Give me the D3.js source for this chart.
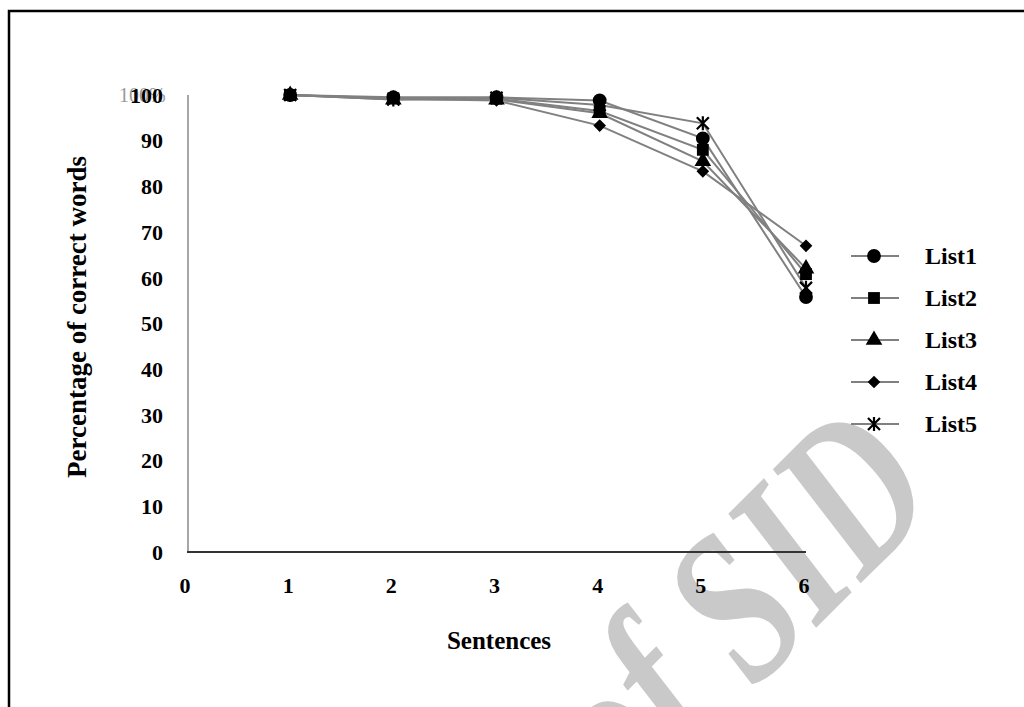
<!DOCTYPE html>
<html><head><meta charset="utf-8">
<script src="https://cdn.jsdelivr.net/npm/d3@7"></script>
<style>body{margin:0;background:#fff;}svg{display:block;}</style>
</head><body>
<svg id="c" width="1024" height="707"></svg>
<script>
const sentences = [1, 2, 3, 4, 5, 6];
const xTicks = [0, 1, 2, 3, 4, 5, 6];
const yTicks = [0, 10, 20, 30, 40, 50, 60, 70, 80, 90, 100];
const seriesNames = ["List1", "List2", "List3", "List4", "List5"];
const list1 = [100, 99.5, 99.5, 98.8, 90.5, 55.8];
const list2 = [100, 99.3, 99.2, 96.5, 88.0, 60.8];
const list3 = [100, 99.0, 99.0, 96.0, 85.5, 62.0];
const list4 = [100, 99.2, 98.8, 93.3, 83.3, 67.0];
const list5 = [100, 99.0, 99.4, 97.8, 93.8, 57.8];
const seriesValues = [list1, list2, list3, list4, list5];

const svg = d3.select("#c");
const font = "'Liberation Serif','Times New Roman',serif";

// watermark
svg.append("text")
  .attr("transform", "translate(944,500) rotate(-45) scale(0.74,1)")
  .attr("text-anchor", "end")
  .attr("font-family", font).attr("font-style", "italic").attr("font-weight", "bold")
  .attr("font-size", 218).attr("fill", "#c9c9c9")
  .text("Archive of SID");

// frame (top and left)
svg.append("path").attr("d", "M9,707 V11 H1024").attr("fill", "none")
  .attr("stroke", "#000").attr("stroke-width", 2.5);

const x = d3.scaleLinear().domain([0, 6]).range([187, 806]);
const y = d3.scaleLinear().domain([0, 100]).range([552, 95]);

// markers
const markers = [
  g => g.append("path").attr("d", d3.symbol().type(d3.symbolCircle).size(150)),
  g => g.append("path").attr("d", d3.symbol().type(d3.symbolSquare).size(140)),
  g => g.append("path").attr("d", d3.symbol().type(d3.symbolTriangle).size(120)),
  g => g.append("path").attr("d", d3.symbol().type(d3.symbolSquare).size(80)).attr("transform", "rotate(45)"),
  g => g.append("path").attr("d", "M-6,-6L6,6M-6,6L6,-6M0,-7L0,7").attr("stroke", "#000").attr("stroke-width", 2.2).attr("fill", "none")
];

// y axis line
svg.append("line").attr("x1", x(0)+1).attr("x2", x(0)+1).attr("y1", y(100)).attr("y2", y(0))
  .attr("stroke", "#888").attr("stroke-width", 1.5);
// x axis line
svg.append("line").attr("x1", x(0)).attr("x2", x(6)).attr("y1", y(0)).attr("y2", y(0))
  .attr("stroke", "#333").attr("stroke-width", 2);

// ghost label
svg.append("text").attr("x", 119).attr("y", y(100)+7).attr("font-family", font)
  .attr("font-size", 20).attr("fill", "#999").text("100%");

// y tick labels
svg.append("g").selectAll("text").data(yTicks).join("text")
  .attr("x", 163).attr("y", d => y(d)).attr("dy", "0.35em")
  .attr("text-anchor", "end").attr("font-family", font).attr("font-weight", "bold")
  .attr("font-size", 22).attr("fill", "#000").text(d => d);

// x tick labels
svg.append("g").selectAll("text").data(xTicks).join("text")
  .attr("x", d => x(d) - 2).attr("y", 593)
  .attr("text-anchor", "middle").attr("font-family", font).attr("font-weight", "bold")
  .attr("font-size", 22).attr("fill", "#000").text(d => d);

// axis titles
svg.append("text").attr("transform", "translate(86,317) rotate(-90)")
  .attr("text-anchor", "middle").attr("font-family", font).attr("font-weight", "bold")
  .attr("font-size", 27).text("Percentage of correct words");
svg.append("text").attr("x", 499).attr("y", 649)
  .attr("text-anchor", "middle").attr("font-family", font).attr("font-weight", "bold")
  .attr("font-size", 25).text("Sentences");

const line = d3.line().x((d, i) => x(sentences[i])).y(d => y(d));
seriesValues.forEach((vals) => {
  svg.append("path").attr("d", line(vals)).attr("fill", "none")
    .attr("stroke", "#808080").attr("stroke-width", 2);
});
seriesValues.forEach((vals, k) => {
  vals.forEach((v, i) => {
    const g = svg.append("g").attr("transform", `translate(${x(sentences[i])},${y(v)})`).attr("fill", "#000");
    markers[k](g);
  });
});

// legend
const lg = svg.append("g");
seriesNames.forEach((name, k) => {
  const ly = 256 + k * 42;
  lg.append("line").attr("x1", 851).attr("x2", 899).attr("y1", ly).attr("y2", ly)
    .attr("stroke", "#808080").attr("stroke-width", 2);
  const g = lg.append("g").attr("transform", `translate(874,${ly})`).attr("fill", "#000");
  markers[k](g);
  lg.append("text").attr("x", 925).attr("y", ly).attr("dy", "0.35em")
    .attr("font-family", font).attr("font-weight", "bold").attr("font-size", 24)
    .text(name);
});
</script>
</body></html>
